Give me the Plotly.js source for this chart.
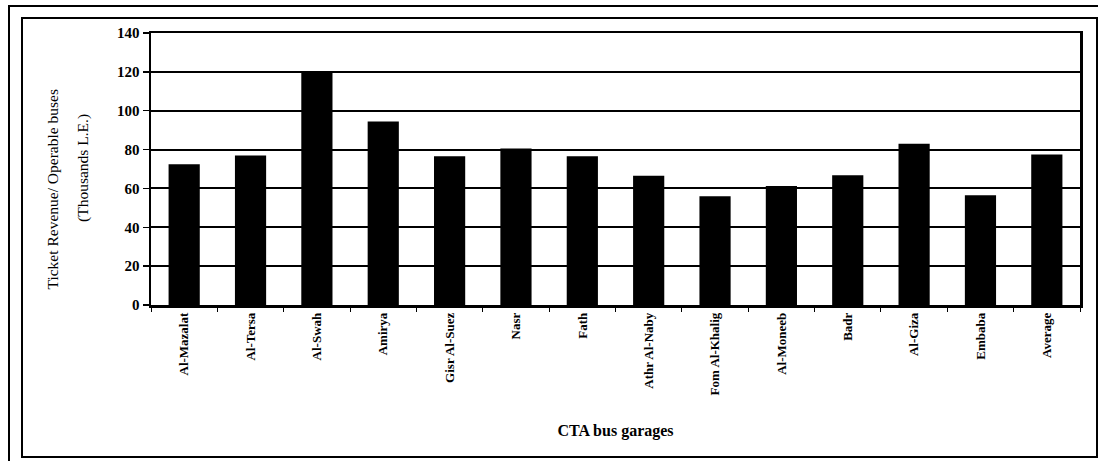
<!DOCTYPE html>
<html>
<head>
<meta charset="utf-8">
<script src="https://cdn.plot.ly/plotly-3.0.1.min.js"></script>
<style>
html,body{margin:0;padding:0;background:#fff;}
#chart{width:1098px;height:461px;}
</style>
</head>
<body>
<div id="chart"></div>
<script>
const garages = ["Al-Mazalat", "Al-Tersa", "Al-Swah", "Amirya", "Gisr Al-Suez", "Nasr", "Fath",
  "Athr Al-Naby", "Fom Al-Khalig", "Al-Moneeb", "Badr", "Al-Giza", "Embaba", "Average"];
const revenuePerBus = [72.5, 77, 120.5, 94.5, 76.5, 80.5, 76.5, 66.5, 56, 61.3, 66.8, 83, 56.5, 77.4];
const yTicks = [0, 20, 40, 60, 80, 100, 120, 140];

const serif = "Liberation Serif, Times New Roman, serif";
const L = 151, R = 1080, T = 33, B = 305, W = 1098, H = 461;
const px = x => (x - L) / (R - L);
const py = y => (B - y) / (B - T);

const trace = {
  type: "bar",
  x: garages,
  y: revenuePerBus,
  marker: {color: "#000", line: {width: 0}},
  hoverinfo: "x+y"
};

const layout = {
  width: W, height: H,
  margin: {l: L, r: W - R, t: T, b: H - B},
  paper_bgcolor: "#fff",
  plot_bgcolor: "#fff",
  bargap: 0.53,
  showlegend: false,
  xaxis: {
    type: "category",
    tickangle: -90,
    tickfont: {family: serif, size: 13, color: "#000", weight: "bold"},
    ticks: "outside",
    tickson: "boundaries",
    ticklen: 4,
    tickcolor: "#000",
    showline: true, linecolor: "#000", linewidth: 2.5, mirror: true,
    showgrid: false,
    title: {text: "CTA bus garages", font: {family: serif, size: 16, color: "#000", weight: "bold"}, standoff: 31}
  },
  yaxis: {
    range: [0, 140],
    tickvals: yTicks,
    ticktext: yTicks.map(String),
    tickfont: {family: serif, size: 15, color: "#000", weight: "bold"},
    ticks: "outside",
    ticklen: 6,
    tickwidth: 1.5,
    tickcolor: "#000",
    showline: true, linecolor: "#000", linewidth: 2.5, mirror: true,
    showgrid: true, gridcolor: "#000", gridwidth: 2,
    zeroline: false,
    fixedrange: true
  },
  annotations: [
    {text: "Ticket Revenue/ Operable buses", xref: "paper", yref: "paper",
     x: px(41), y: py(190), textangle: -90, showarrow: false,
     font: {family: serif, size: 15.5, color: "#000"}},
    {text: "(Thousands L.E.)", xref: "paper", yref: "paper",
     x: px(72), y: py(168), textangle: -90, showarrow: false,
     font: {family: serif, size: 15.5, color: "#000"}}
  ],
  shapes: [
    {type: "rect", xref: "paper", yref: "paper", x0: px(9), x1: px(1115), y0: py(6), y1: py(480),
     line: {color: "#000", width: 2}, fillcolor: "rgba(0,0,0,0)", layer: "below"},
    {type: "rect", xref: "paper", yref: "paper", x0: px(22), x1: px(1097), y0: py(18), y1: py(457),
     line: {color: "#000", width: 2}, fillcolor: "rgba(0,0,0,0)", layer: "below"}
  ]
};

Plotly.newPlot("chart", [trace], layout, {displayModeBar: false, staticPlot: true});
</script>
</body>
</html>
